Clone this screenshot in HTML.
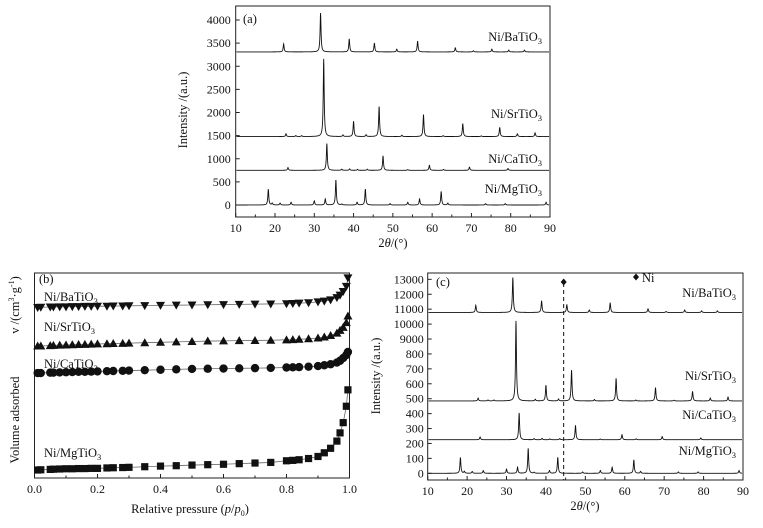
<!DOCTYPE html>
<html><head><meta charset="utf-8">
<style>
html,body{margin:0;padding:0;background:#fff;}
svg, svg text, svg tspan{font-family:"Liberation Serif","DejaVu Serif","Times New Roman",serif;}
text{fill:#111;}
</style></head>
<body>
<svg id="fig" width="763" height="523" viewBox="0 0 763 523" font-family="Liberation Serif, DejaVu Serif, serif"></svg>
<script>
// ---------- XRD data (peak position in 2θ, peak height in a.u.) ----------
const xrdSeriesNames = ["Ni/MgTiO3","Ni/CaTiO3","Ni/SrTiO3","Ni/BaTiO3"];
const xrdBaselines = [0, 750, 1480, 3310];
const mgPeakPos = [18.3,19.3,21.3,24.1,30,32.8,35.5,37,40.9,43,49.3,53.8,56.8,62.3,64,73.6,78.6,89];
const mgPeakH   = [340,40,40,60,90,130,540,20,60,345,30,60,130,290,40,30,30,60];
const caPeakPos = [23.3,33.2,37,39,41,43.5,47.5,53.8,59.3,62.9,69.5,79.3];
const caPeakH   = [60,580,25,30,20,25,310,15,110,20,70,40];
const srPeakPos = [22.8,25.3,26.8,32.4,37.3,40,43.2,46.5,52.3,57.8,62.8,67.8,72.5,77.2,81.7,86.2];
const srPeakH   = [60,20,20,1680,35,330,40,650,30,475,20,280,15,200,60,80];
const baPeakPos = [22.2,31.6,38.9,45.3,51,56.3,65.9,70.5,75.2,79.5,83.5];
const baPeakH   = [173,840,280,190,60,230,90,25,60,40,40];
const xrdPeaks = [[mgPeakPos,mgPeakH],[caPeakPos,caPeakH],[srPeakPos,srPeakH],[baPeakPos,baPeakH]];
const xTicks = [10,20,30,40,50,60,70,80,90];
const aYTicks = [0,500,1000,1500,2000,2500,3000,3500,4000];
// panel c: broken axis, labels evenly spaced
const cYTickLabels = ["0","100","200","300","400","500","600","700","800","9000","10000","11000","12000","13000"];
const cBaselines = [0, 2.25, 4.85, 10.78]; // in tick-index units
const cScale = [1.0, 1.0, 1.03, 0.9];
const niPeak = 44.5;

// ---------- BET data ----------
const pressure = [0.01,0.02,0.05,0.06,0.08,0.10,0.12,0.14,0.16,0.18,0.20,0.23,0.25,0.28,0.30,0.35,0.40,0.45,0.50,0.55,0.60,0.65,0.70,0.75,0.80,0.82,0.84,0.87,0.90,0.92,0.94,0.96,0.97,0.98,0.99,0.995];
const volMg = [3.9,4.0,4.2,4.3,4.4,4.5,4.5,4.6,4.6,4.7,4.7,4.9,5.0,5.1,5.2,5.5,5.8,6.0,6.3,6.5,6.7,7.0,7.3,7.6,8.4,8.6,8.9,9.5,10.5,12.3,14.5,18,22,27,35,43];
const volCa = [51.2,51.2,51.4,51.4,51.5,51.6,51.7,51.8,51.8,51.9,52.0,52.1,52.2,52.3,52.4,52.6,52.8,53.0,53.2,53.3,53.4,53.5,53.6,53.7,53.9,54.0,54.1,54.3,54.6,55.0,55.5,56.3,57.2,58.5,60,61.5];
const volSr = [64.4,64.4,64.6,64.7,64.8,64.9,65.0,65.1,65.2,65.3,65.4,65.5,65.6,65.7,65.8,66.0,66.2,66.4,66.6,66.8,66.9,67.0,67.1,67.2,67.4,67.5,67.7,67.9,68.3,68.8,69.5,70.7,72,73.5,75.8,79];
const volBa = [83.2,83.3,83.4,83.4,83.5,83.5,83.6,83.6,83.7,83.7,83.8,83.8,83.9,83.9,84.0,84.1,84.2,84.3,84.4,84.5,84.6,84.7,84.8,84.9,85.0,85.1,85.3,85.5,85.9,86.3,86.9,88,89.2,91,93.5,97.6];
const pTicks = ["0.0","0.2","0.4","0.6","0.8","1.0"];

const NS = "http://www.w3.org/2000/svg";
const svg = document.getElementById("fig");
const FONT = "Liberation Serif, DejaVu Serif, serif";
function mk(tag, attrs, parent){
  const e = document.createElementNS(NS, tag);
  for (const k in attrs) e.setAttribute(k, attrs[k]);
  if (tag === "text") e.setAttribute("font-family", FONT);
  (parent||svg).appendChild(e);
  return e;
}
function txt(s, x, y, size, anchor, parent){
  const t = mk("text",{x:x,y:y,"font-size":size,"text-anchor":anchor||"start"},parent);
  t.textContent = s;
  return t;
}
function subLabel(name, x, y, anchor, parent){
  const t = mk("text",{x:x,y:y,"font-size":12.5,"text-anchor":anchor},parent);
  
  
  const base = name.slice(0,-1);
  const a = document.createElementNS(NS,"tspan"); a.textContent = base; t.appendChild(a);
  const b = document.createElementNS(NS,"tspan"); b.setAttribute("font-size","8.5"); b.setAttribute("dy","3"); b.textContent = "3"; t.appendChild(b);
  return t;
}
function profile(pos, hts, x){
  let s = 0;
  const g = 0.14;
  for (let i=0;i<pos.length;i++){ const d=(x-pos[i])/g; s += hts[i]/(1+d*d); }
  return s;
}

// ================= Panel (a) =================
(function(){
  const L=235.7,R=550,T=6,B=217;
  const g = mk("g",{});
  
  
  const sx = v => L + (v-10)/80*(R-L);
  const y0 = 205, k = 185/4000;
  const sy = v => y0 - v*k;
  mk("rect",{x:L,y:T,width:R-L,height:B-T,fill:"none",stroke:"#222","stroke-width":1},g);
  xTicks.forEach(v=>{
    mk("line",{x1:sx(v),x2:sx(v),y1:B,y2:B-4,stroke:"#222"},g);
    const t = txt(String(v), sx(v), 232, 12, "middle", g);
    
    
  });
  for (let v=15; v<90; v+=10) mk("line",{x1:sx(v),x2:sx(v),y1:B,y2:B-2.5,stroke:"#222"},g);
  aYTicks.forEach(v=>{
    mk("line",{x1:L,x2:L+4,y1:sy(v),y2:sy(v),stroke:"#222"},g);
    const t = txt(String(v), L-5, sy(v)+4, 12, "end", g);
    
    
  });
  xrdPeaks.forEach((pk,i)=>{
    let d="";
    for (let x=10.2; x<=89.8; x+=0.04){
      const v = xrdBaselines[i] + profile(pk[0],pk[1],x);
      d += (d?"L":"M")+sx(x).toFixed(2)+","+sy(v).toFixed(2);
    }
    const p = mk("path",{d:d,fill:"none",stroke:"#111","stroke-width":0.9},g);
    
    
  });
  const lbY=[193,163,118,41];
  xrdSeriesNames.forEach((n,i)=>subLabel(n, 542, lbY[i], "end", g));
  const pl = txt("(a)", 243, 23, 12.5, "start", g);
  
  
  const yt = txt("Intensity /(a.u.)", 0, 0, 12.5, "middle", g);
  yt.setAttribute("transform","translate(187,110) rotate(-90)");
  
  
  const xt = mk("text",{x:393,y:247,"font-size":12.5,"text-anchor":"middle"},g);
  xt.innerHTML = '2<tspan font-style="italic">θ</tspan>/(°)';
  
  
})();

// ================= Panel (b) =================
(function(){
  const L=34.5,R=349.5,T=273,B=478;
  const g = mk("g",{});
  
  
  const sx = v => L + v*(R-L);
  const sy = v => B - v*(B-T)/100;
  mk("rect",{x:L,y:T,width:R-L,height:B-T,fill:"none",stroke:"#222"},g);
  pTicks.forEach(s=>{
    const v = parseFloat(s);
    mk("line",{x1:sx(v),x2:sx(v),y1:B,y2:B-4,stroke:"#222"},g);
    const t = txt(s, sx(v), 493, 12, "middle", g);
    
    
  });
  for (let v=0.1; v<1; v+=0.2) mk("line",{x1:sx(v),x2:sx(v),y1:B,y2:B-2.5,stroke:"#222"},g);
  const series=[volMg,volCa,volSr,volBa];
  const shapes=["square","circle","up","down"];
  series.forEach((vals,i)=>{
    let d="";
    pressure.forEach((p,j)=>{ d+=(j?"L":"M")+sx(p).toFixed(2)+","+sy(vals[j]).toFixed(2); });
    const ln = mk("path",{d:d,fill:"none",stroke:"#666","stroke-width":0.8},g);
    
    
    pressure.forEach((p,j)=>{
      const x=sx(p), y=sy(vals[j]); let m;
      if (shapes[i]==="square") m = mk("rect",{x:x-3.6,y:y-3.6,width:7.2,height:7.2,fill:"#111"},g);
      else if (shapes[i]==="circle") m = mk("circle",{cx:x,cy:y,r:4.2,fill:"#111"},g);
      else if (shapes[i]==="up") m = mk("path",{d:`M${x},${y-4.5}L${x+4.5},${y+3.5}L${x-4.5},${y+3.5}Z`,fill:"#111"},g);
      else m = mk("path",{d:`M${x},${y+4.5}L${x+4.5},${y-3.5}L${x-4.5},${y-3.5}Z`,fill:"#111"},g);
      
      
    });
  });
  const lbY=[457,368,331,301];
  xrdSeriesNames.forEach((n,i)=>subLabel(n, 44, lbY[i], "start", g));
  const pl = txt("(b)", 39, 283, 12.5, "start", g);
  
  
  const yt1 = txt("Volume adsorbed", 0, 0, 12.5, "middle", g);
  yt1.setAttribute("transform","translate(19,420) rotate(-90)");
  
  
  const yt = mk("text",{x:0,y:0,"font-size":12.5,"text-anchor":"middle",transform:"translate(19,305) rotate(-90)"},g);
  yt.innerHTML = 'v /(cm<tspan font-size="8" dy="-5">3</tspan><tspan dy="5">·g</tspan><tspan font-size="8" dy="-5">-1</tspan><tspan dy="5">)</tspan>';
  
  
  const xt = mk("text",{x:190,y:513,"font-size":12.5,"text-anchor":"middle"},g);
  xt.innerHTML = 'Relative pressure    (<tspan font-style="italic">p</tspan>/<tspan font-style="italic">p</tspan><tspan font-size="8" dy="3">0</tspan><tspan dy="-3">)</tspan>';
  
  
})();

// ================= Panel (c) =================
(function(){
  const L=427.7,R=743,T=273,B=480;
  const g = mk("g",{});
  
  
  const sx = v => L + (v-10)/80*(R-L);
  const y0 = 473.3, step = 14.92;
  const sy = v => y0 - v*step;            // v in tick-index units
  const toTick = h => h*(185/4000)/step;  // intensity -> tick units
  mk("rect",{x:L,y:T,width:R-L,height:B-T,fill:"none",stroke:"#222"},g);
  xTicks.forEach(v=>{
    mk("line",{x1:sx(v),x2:sx(v),y1:B,y2:B-4,stroke:"#222"},g);
    const t = txt(String(v), sx(v), 495, 12, "middle", g);
    
    
  });
  for (let v=15; v<90; v+=10) mk("line",{x1:sx(v),x2:sx(v),y1:B,y2:B-2.5,stroke:"#222"},g);
  cYTickLabels.forEach((s,i)=>{
    mk("line",{x1:L,x2:L+4,y1:sy(i),y2:sy(i),stroke:"#222"},g);
    const t = txt(s, L-4, sy(i)+4, 12, "end", g);
    
    
  });
  xrdPeaks.forEach((pk,i)=>{
    let d="";
    for (let x=10.2; x<=89.8; x+=0.04){
      const v = cBaselines[i] + cScale[i]*toTick(profile(pk[0],pk[1],x));
      d += (d?"L":"M")+sx(x).toFixed(2)+","+sy(v).toFixed(2);
    }
    const p = mk("path",{d:d,fill:"none",stroke:"#111","stroke-width":0.9},g);
    
    
  });
  const dl = mk("line",{x1:sx(niPeak),x2:sx(niPeak),y1:283,y2:B,stroke:"#111","stroke-width":1,"stroke-dasharray":"4,3"},g);
  
  
  const dm = mk("path",{d:`M${sx(niPeak)},278.5L${sx(niPeak)+3},282L${sx(niPeak)},285.5L${sx(niPeak)-3},282Z`,fill:"#111"},g);
  
  
  const lm = mk("path",{d:`M636,273.5L639,277L636,280.5L633,277Z`,fill:"#111"},g);
  
  
  const lt = txt("Ni", 642, 282, 12.5, "start", g);
  
  
  const lbY=[455,419,380,297];
  xrdSeriesNames.forEach((n,i)=>subLabel(n, 736, lbY[i], "end", g));
  const pl = txt("(c)", 436, 286, 12.5, "start", g);
  
  
  const yt = txt("Intensity /(a.u.)", 0, 0, 12.5, "middle", g);
  yt.setAttribute("transform","translate(380,376) rotate(-90)");
  
  
  const xt = mk("text",{x:585,y:510,"font-size":12.5,"text-anchor":"middle"},g);
  xt.innerHTML = '2<tspan font-style="italic">θ</tspan>/(°)';
  
  
})();
</script>
</body></html>
